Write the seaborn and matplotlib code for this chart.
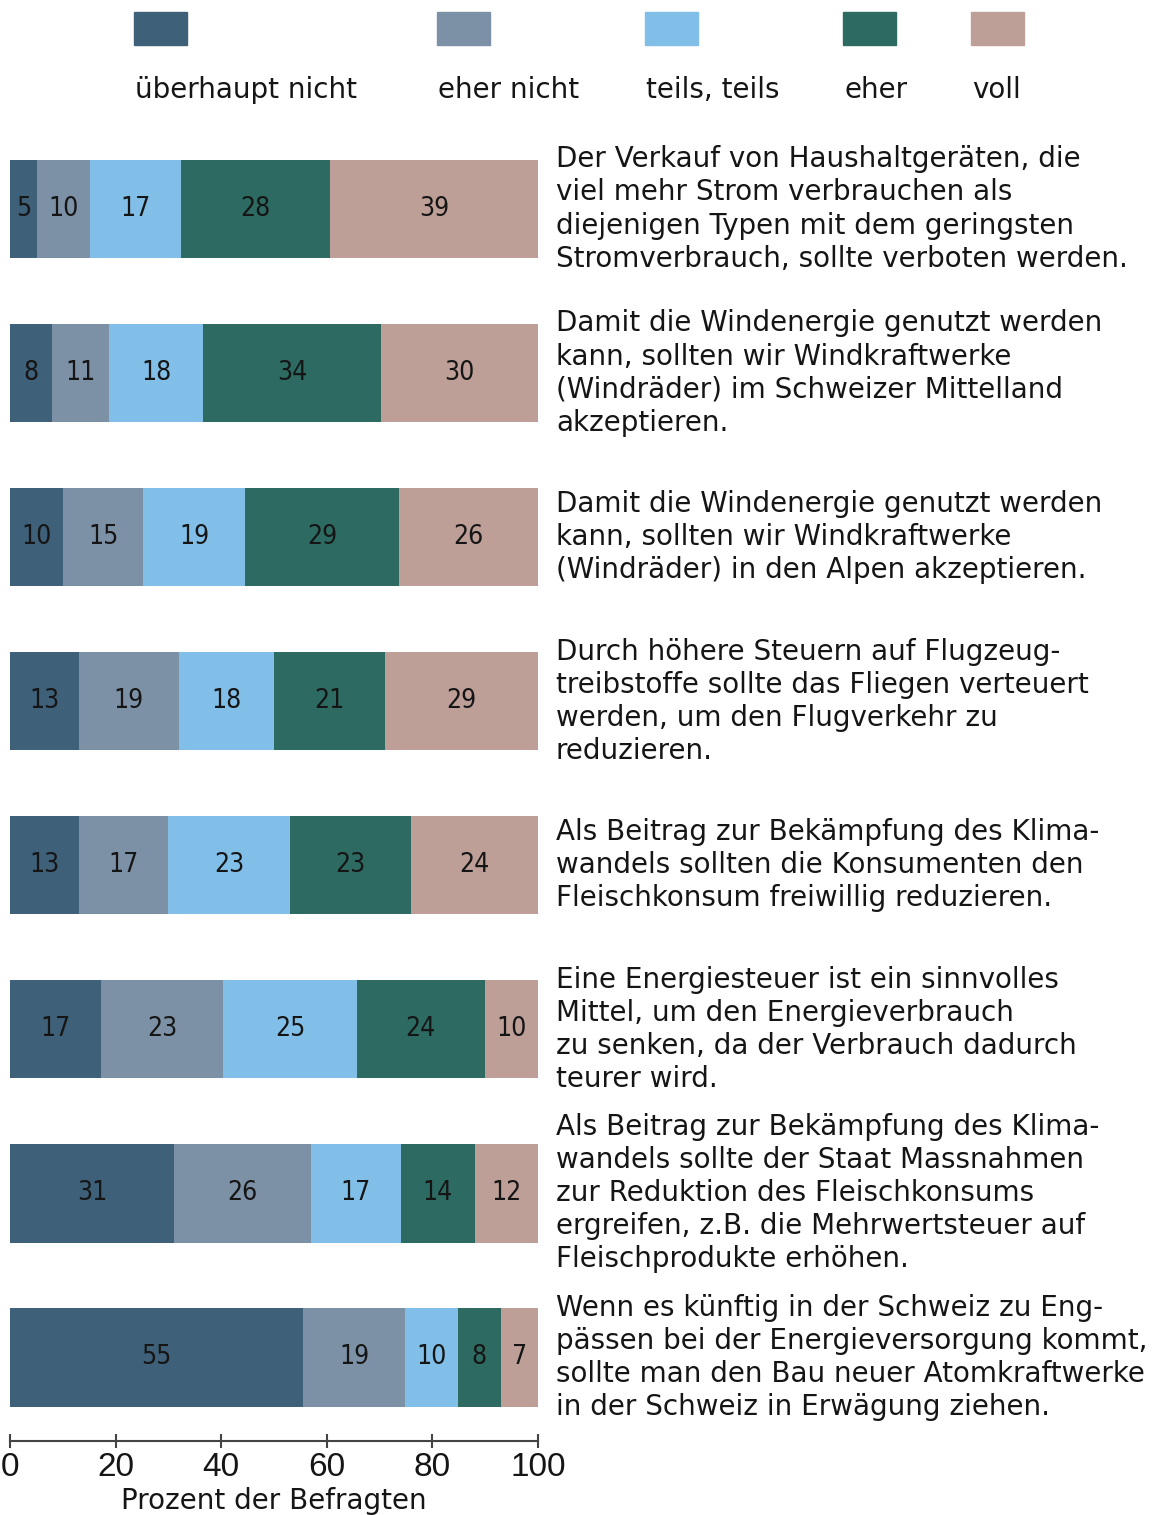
import matplotlib
matplotlib.use("Agg")
import matplotlib.pyplot as plt
import matplotlib.patches as mpatches
from matplotlib import font_manager
import numpy as np
import seaborn as sns

# Antwortkategorien und Farben
categories = ["überhaupt nicht", "eher nicht", "teils, teils", "eher", "voll"]
colors = ["#3f6079", "#7d91a6", "#82bfe8", "#2d6b62", "#bd9f98"]

statements = [
    "Der Verkauf von Haushaltgeräten, die\nviel mehr Strom verbrauchen als\n"
    "diejenigen Typen mit dem geringsten\nStromverbrauch, sollte verboten werden.",
    "Damit die Windenergie genutzt werden\nkann, sollten wir Windkraftwerke\n"
    "(Windräder) im Schweizer Mittelland\nakzeptieren.",
    "Damit die Windenergie genutzt werden\nkann, sollten wir Windkraftwerke\n"
    "(Windräder) in den Alpen akzeptieren.",
    "Durch höhere Steuern auf Flugzeug-\ntreibstoffe sollte das Fliegen verteuert\n"
    "werden, um den Flugverkehr zu\nreduzieren.",
    "Als Beitrag zur Bekämpfung des Klima-\nwandels sollten die Konsumenten den\n"
    "Fleischkonsum freiwillig reduzieren.",
    "Eine Energiesteuer ist ein sinnvolles\nMittel, um den Energieverbrauch\n"
    "zu senken, da der Verbrauch dadurch\nteurer wird.",
    "Als Beitrag zur Bekämpfung des Klima-\nwandels sollte der Staat Massnahmen\n"
    "zur Reduktion des Fleischkonsums\nergreifen, z.B. die Mehrwertsteuer auf\n"
    "Fleischprodukte erhöhen.",
    "Wenn es künftig in der Schweiz zu Eng-\npässen bei der Energieversorgung kommt,\n"
    "sollte man den Bau neuer Atomkraftwerke\nin der Schweiz in Erwägung ziehen.",
]

# Prozentwerte je Aussage (von oben nach unten)
ueberhaupt_nicht = [5, 8, 10, 13, 13, 17, 31, 55]
eher_nicht = [10, 11, 15, 19, 17, 23, 26, 19]
teils_teils = [17, 18, 19, 18, 23, 25, 17, 10]
eher = [28, 34, 29, 21, 23, 24, 14, 8]
voll = [39, 30, 26, 29, 24, 10, 12, 7]

x_ticks = [0, 20, 40, 60, 80, 100]

W, H = 1172, 1515
TEXT = "#151515"

sns.set_theme(style="white")
plt.rcParams["font.family"] = ["DejaVu Sans"]

# schmale Schrift fuer die Zahlen in den Balken, falls vorhanden
fonts = font_manager.fontManager.ttflist
if any(f.name == "Liberation Sans Narrow" for f in fonts):
    num_font = dict(family="Liberation Sans Narrow", fontsize=20)
elif any(f.name == "DejaVu Sans" and f.stretch == "condensed" for f in fonts):
    num_font = dict(family="DejaVu Sans", fontstretch="condensed", fontsize=19)
else:
    num_font = dict(family="Liberation Sans", fontsize=17)

values = np.array([ueberhaupt_nicht, eher_nicht, teils_teils, eher, voll], dtype=float)
# gerundete Werte summieren nicht immer auf 100 -> Balken auf 100 skalieren
shares = values / values.sum(axis=0) * 100
rows = np.arange(len(statements))

fig = plt.figure(figsize=(W / 100, H / 100), dpi=100)
ax = fig.add_axes([10 / W, 1 - 1441 / H, 528 / W, (1441 - 127) / H])

left = np.zeros(len(rows))
for k, cat in enumerate(categories):
    sns.barplot(x=shares[k], y=rows, orient="h", color=colors[k], saturation=1,
                width=0.6, left=left.copy(), linewidth=0, ax=ax)
    left += shares[k]

for k, cont in enumerate(ax.containers):
    ax.bar_label(cont, labels=[f"{int(v)}" for v in values[k]], label_type="center",
                 color=TEXT, **num_font)

for i, s in enumerate(statements):
    ax.text(103.4, i, s, ha="left", va="center", fontsize=20, color=TEXT,
            linespacing=1.23, clip_on=False)

ax.set_xlim(0, 100)
ax.set_ylim(len(rows) - 0.49, -0.5)
ax.set_yticks([])
ax.set_ylabel("")
ax.set_xticks(x_ticks)
ax.set_xticklabels([str(t) for t in x_ticks], family="Liberation Sans")
ax.tick_params(axis="x", direction="inout", length=10, width=1.5, color="#444444",
               labelsize=24, labelcolor=TEXT, pad=3, bottom=True)
ax.set_xlabel("Prozent der Befragten", fontsize=20, color=TEXT, labelpad=3)
sns.despine(ax=ax, left=True)
ax.spines["bottom"].set_color("#444444")
ax.spines["bottom"].set_linewidth(1.5)

# Legende: Farbfelder oben, Beschriftung darunter
leg_x = [134, 437, 645, 843, 971]
for k, cat in enumerate(categories):
    fig.add_artist(mpatches.Rectangle((leg_x[k] / W, 1 - 45 / H), 53 / W, 33 / H,
                                      transform=fig.transFigure, color=colors[k]))
    fig.text((leg_x[k] + 1) / W, 1 - 90 / H, cat, ha="left", va="center",
             fontsize=20, color=TEXT)

fig.savefig("out.png", dpi=100)
